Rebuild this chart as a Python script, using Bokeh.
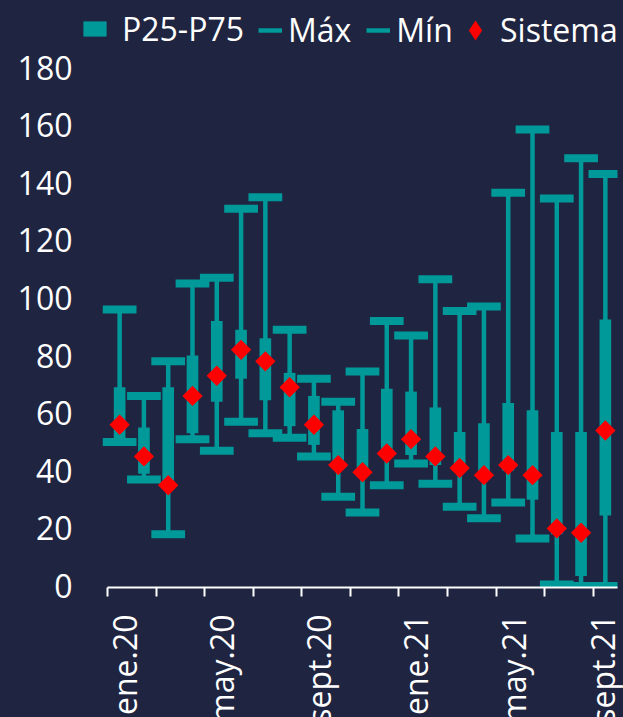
import math
import re
from bokeh.plotting import figure
from bokeh.models import ColumnDataSource, FixedTicker, Legend, LegendItem, Range1d
from bokeh.embed import file_html
from bokeh.resources import INLINE

# ---------------- data ----------------
meses = ["ene.20", "feb.20", "mar.20", "abr.20", "may.20", "jun.20", "jul.20",
         "ago.20", "sept.20", "oct.20", "nov.20", "dic.20", "ene.21", "feb.21",
         "mar.21", "abr.21", "may.21", "jun.21", "jul.21", "ago.21", "sept.21"]
maximo = [96, 66, 78, 105, 107, 131, 135, 89, 72, 64, 74.5, 92, 87, 106.5,
          95.5, 97, 136.5, 158.5, 134.5, 148.5, 143]
p75 = [69, 55, 69, 80, 92, 89, 86, 74, 66, 61, 54.5, 68.5, 67.5, 62,
       53.5, 56.5, 63.5, 61, 53.5, 53.5, 92.5]
p25 = [51, 39, 36, 53, 64, 72, 64.5, 55.5, 49, 42, 39, 45, 45.5, 42,
       40, 37, 40, 30, 18, 3.5, 24.5]
minimo = [50, 37, 18, 51, 47, 57, 53, 51.5, 45, 31, 25.5, 35, 42.5, 35.5,
          27.5, 23.5, 29, 16.5, 0.5, 0, 0]
sistema = [56, 45, 35, 66, 73, 82, 78, 69, 56, 42, 39.5, 46, 51, 45,
           41, 38.5, 42, 38.5, 20, 18.5, 54]
y_ticks = [0, 20, 40, 60, 80, 100, 120, 140, 160, 180]
label_every = 4

BG = "#1F2440"
TEAL = "#009999"
RED = "#FF0000"
WHITE = "#FFFFFF"
FONT = "Open Sans"
FS = "32px"
LABEL_SHIFT = 0.2   # small visual nudge of rotated month labels

n = len(meses)
x = [i + 0.5 for i in range(n)]
src = ColumnDataSource(dict(x=x, mes=meses, maximo=maximo, p75=p75,
                            p25=p25, minimo=minimo, sistema=sistema))

# frame also holds the legend strip (above 180) and the space left of the axis
PX_X = 510 / n            # px per month
PX_Y = 520 / 180.5        # px per unit
FW, FH = 537, 585
x_start = n - FW / PX_X
y_end = -0.5 + FH / PX_Y

p = figure(frame_width=FW, frame_height=FH,
           x_range=Range1d(x_start, n), y_range=Range1d(-0.5, y_end),
           output_backend="svg", toolbar_location=None,
           min_border_left=80, min_border_right=6, min_border_top=2,
           min_border_bottom=130,
           background_fill_color=None, border_fill_color=BG)
p.styles = {"background-color": BG}
p.outline_line_color = None
p.grid.visible = False

whisk = p.segment(x0="x", y0="minimo", x1="x", y1="maximo", source=src,
                  line_color=TEAL, line_width=4.5)
cap_max = p.rect(x="x", y="maximo", width=1.39, height=8, height_units="screen",
                 source=src, fill_color=TEAL, line_color=None)
cap_min = p.rect(x="x", y="minimo", width=1.39, height=8, height_units="screen",
                 source=src, fill_color=TEAL, line_color=None)
box = p.vbar(x="x", top="p75", bottom="p25", width=0.48, source=src,
             fill_color=TEAL, line_color=None)
dots = p.scatter(x="x", y="sistema", marker="square", size=14.4,
                 angle=math.pi / 4, source=src, fill_color=RED, line_color=None)
# legend key for "Sistema" (legend keys ignore marker angle, so use a diamond);
# hidden in the plot itself, only drawn as the legend key
dots_key = p.scatter(x="x", y="sistema", marker="diamond", size=20, source=src,
                     fill_color=RED, line_color=None, visible=False)

# ---------------- axes ----------------
xa = p.xaxis[0]
xa.bounds = (0, n)
lab_pos = [x[i] + LABEL_SHIFT for i in range(0, n, label_every)]
xa.ticker = FixedTicker(ticks=lab_pos, minor_ticks=list(range(0, n, 2)))
xa.major_label_overrides = {pos: meses[i] for pos, i in zip(lab_pos, range(0, n, label_every))}
xa.major_label_orientation = math.pi / 2
xa.major_tick_line_color = None
xa.major_tick_out = 0
xa.major_tick_in = 0
xa.minor_tick_line_color = WHITE
xa.minor_tick_line_width = 2
xa.minor_tick_out = 9
xa.minor_tick_in = 0
xa.axis_line_color = WHITE
xa.axis_line_width = 2
xa.major_label_standoff = 18
xa.major_label_text_font = FONT
xa.major_label_text_font_size = FS
xa.major_label_text_color = WHITE

ya = p.yaxis[0]
ya.ticker = FixedTicker(ticks=y_ticks)
ya.axis_line_color = None
ya.major_tick_line_color = None
ya.minor_tick_line_color = None
ya.major_tick_out = 0
ya.major_tick_in = 0
ya.major_label_standoff = 8
ya.major_label_text_font = FONT
ya.major_label_text_font_size = FS
ya.major_label_text_color = WHITE

# ---------------- legends ----------------
def mk_legend(items, loc, gw, gh, standoff, spacing, lh=44):
    lg = Legend(items=items, location=loc, orientation="horizontal",
                glyph_width=gw, glyph_height=gh, label_standoff=standoff,
                spacing=spacing, padding=0, margin=0, label_height=lh,
                background_fill_alpha=0, border_line_color=None,
                label_text_font=FONT, label_text_font_size=FS,
                label_text_color=WHITE, click_policy="none")
    p.add_layout(lg, "center")
    return lg

mk_legend([LegendItem(label="P25-P75", renderers=[box])], (0, 537), 29, 19, 13, 0)
mk_legend([LegendItem(label="Máx", renderers=[whisk]),
           LegendItem(label="Mín", renderers=[whisk])], (178, 535.5), 24, 20, 6, 15)
mk_legend([LegendItem(label="Sistema", renderers=[dots_key])],
          (370, 531.5), 50, 52, 0, 0, 52)

html = file_html(p, INLINE, title="Boxplot")
html = re.sub(r"<body>", f'<body style="background-color:{BG};">', html, count=1)
open("out.html", "w").write(html)
